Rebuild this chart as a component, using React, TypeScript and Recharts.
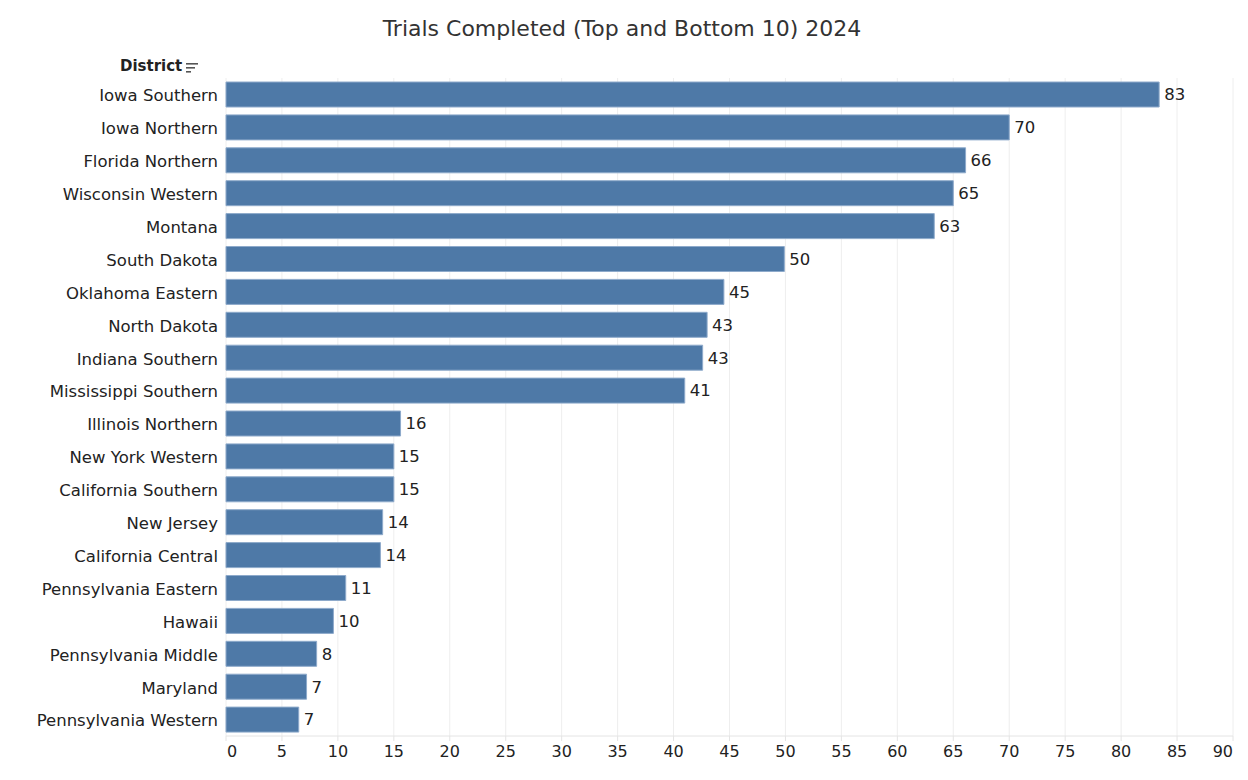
import React from "react";
import {
  BarChart,
  Bar,
  XAxis,
  YAxis,
  CartesianGrid,
  LabelList,
} from "recharts";

const districts = [
  "Iowa Southern",
  "Iowa Northern",
  "Florida Northern",
  "Wisconsin Western",
  "Montana",
  "South Dakota",
  "Oklahoma Eastern",
  "North Dakota",
  "Indiana Southern",
  "Mississippi Southern",
  "Illinois Northern",
  "New York Western",
  "California Southern",
  "New Jersey",
  "California Central",
  "Pennsylvania Eastern",
  "Hawaii",
  "Pennsylvania Middle",
  "Maryland",
  "Pennsylvania Western",
];

// bar lengths; labels show them rounded
const trials = [
  83.4, 70, 66.1, 65, 63.3, 49.9, 44.5, 43, 42.6, 41,
  15.6, 15, 15, 14, 13.8, 10.7, 9.6, 8.1, 7.2, 6.5,
];

const xTicks = [0, 5, 10, 15, 20, 25, 30, 35, 40, 45, 50, 55, 60, 65, 70, 75, 80, 85, 90];

const data = districts.map((d, i) => ({ district: d, trials: trials[i] }));

const FONT = "'DejaVu Sans', sans-serif";
const BLUE = "#4e79a7";

function XTick(props: any) {
  const { x, y, payload, index } = props;
  const last = xTicks.length - 1;
  let anchor: "start" | "middle" | "end" = "middle";
  let dx = 0;
  if (index === 0) {
    anchor = "start";
    dx = 1;
  } else if (index === last) {
    anchor = "end";
  }
  return (
    <text
      x={x + dx}
      y={y}
      dy={14}
      textAnchor={anchor}
      fill="#222"
      fontSize={16}
      fontFamily={FONT}
    >
      {payload.value}
    </text>
  );
}

export default function App() {
  return (
    <div
      style={{
        position: "relative",
        width: 1248,
        height: 780,
        background: "#fff",
        fontFamily: FONT,
      }}
    >
      <style>{"body{margin:0}"}</style>
      <div
        style={{
          position: "absolute",
          top: 16,
          left: 0,
          width: 1244,
          textAlign: "center",
          fontSize: 22,
          color: "#333",
        }}
      >
        Trials Completed (Top and Bottom 10) 2024
      </div>
      <div
        style={{
          position: "absolute",
          top: 57,
          left: 120,
          fontSize: 15,
          fontWeight: 700,
          color: "#222",
          display: "flex",
          alignItems: "center",
        }}
      >
        District
        <svg width={14} height={12} style={{ marginLeft: 4, marginTop: 3 }}>
          <rect x={0} y={1} width={12} height={1.6} fill="#555" />
          <rect x={0} y={5} width={9} height={1.6} fill="#555" />
          <rect x={0} y={9} width={5} height={1.6} fill="#555" />
        </svg>
      </div>
      <BarChart
        width={1248}
        height={780}
        data={data}
        layout="vertical"
        margin={{ top: 78, right: 15, bottom: 14, left: 0 }}
        barSize={25}
      >
        <CartesianGrid vertical horizontal={false} stroke="#eeeeee" />
        <XAxis
          type="number"
          domain={[0, 90]}
          ticks={xTicks}
          interval={0}
          height={30}
          axisLine={{ stroke: "#e4e4e4" }}
          tickLine={{ stroke: "#e4e4e4" }}
          tickSize={5}
          tick={<XTick />}
        />
        <YAxis
          type="category"
          dataKey="district"
          width={226}
          axisLine={false}
          tickLine={false}
          tickSize={0}
          tickMargin={8}
          interval={0}
          tick={{ fill: "#222", fontSize: 16.5, fontFamily: FONT, dy: 1 }}
        />
        <Bar
          dataKey="trials"
          fill={BLUE}
          stroke="#8eaacb"
          strokeWidth={1}
          isAnimationActive={false}
        >
          <LabelList
            dataKey="trials"
            position="right"
            offset={5}
            fill="#222"
            fontSize={16.5}
            fontFamily={FONT}
            formatter={(v: any) => Math.round(Number(v))}
          />
        </Bar>
      </BarChart>
    </div>
  );
}
